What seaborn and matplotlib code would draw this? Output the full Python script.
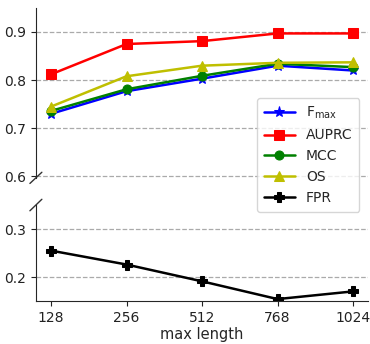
import pandas as pd
import matplotlib
matplotlib.use("Agg")
import matplotlib.pyplot as plt
import seaborn as sns

# data
max_length = ["128", "256", "512", "768", "1024"]
fmax = [0.730, 0.777, 0.803, 0.830, 0.820]
auprc = [0.812, 0.875, 0.881, 0.897, 0.897]
mcc = [0.736, 0.781, 0.809, 0.834, 0.827]
os_score = [0.745, 0.808, 0.830, 0.836, 0.837]
fpr = [0.255, 0.226, 0.191, 0.154, 0.170]

top_series = [
    (r"$\mathrm{F_{max}}$", fmax, "blue", "*"),
    ("AUPRC", auprc, "red", "s"),
    ("MCC", mcc, "green", "o"),
    ("OS", os_score, "y", "^"),
]


def main():
    sns.set_style("ticks")
    plt.rcParams["font.family"] = ["DejaVu Sans"]
    plt.rcParams["font.size"] = 10

    fig = plt.figure(figsize=(3.7, 3.44), dpi=100)
    ax_top = fig.add_axes([0.097, 0.483, 0.898, 0.494])
    ax_bot = fig.add_axes([0.097, 0.125, 0.898, 0.279], sharex=ax_top)

    for name, vals, color, marker in top_series:
        df = pd.DataFrame({"max length": max_length, "value": vals})
        sns.lineplot(data=df, x="max length", y="value", ax=ax_top, color=color,
                     marker=marker, markersize=8 if marker == "*" else 6.5,
                     markeredgecolor=color, linewidth=1.8, sort=False, label=name)
    df = pd.DataFrame({"max length": max_length, "value": fpr})
    sns.lineplot(data=df, x="max length", y="value", ax=ax_bot, color="black",
                 marker="P", markersize=7, markeredgecolor="black",
                 linewidth=1.8, sort=False, label="FPR")

    h1, l1 = ax_top.get_legend_handles_labels()
    h2, l2 = ax_bot.get_legend_handles_labels()
    ax_top.get_legend().remove()
    ax_bot.get_legend().remove()

    ax_top.set_ylim(0.597, 0.95)
    ax_bot.set_ylim(0.15, 0.35)
    ax_top.set_yticks([0.6, 0.7, 0.8, 0.9])
    ax_bot.set_yticks([0.2, 0.3])
    ax_top.set_xlim(-0.2, 4.2)

    for ax in (ax_top, ax_bot):
        ax.grid(axis="y", linestyle="--", color="#aaaaaa", linewidth=0.9)
        ax.set_ylabel("")
        ax.tick_params(labelsize=10, colors="#222222")
        sns.despine(ax=ax)

    ax_top.spines["bottom"].set_visible(False)
    ax_top.tick_params(axis="x", bottom=False, labelbottom=False)
    ax_top.set_xlabel("")
    ax_bot.set_xlabel("max length", fontsize=10.5, labelpad=2)

    # break marks on the left spine
    d = 0.03
    kw = dict(color="#333333", clip_on=False, linewidth=1)
    ax_top.plot([-d * 0.6, d * 0.6], [-d * 1.1, d * 1.1], transform=ax_top.transAxes, **kw)
    ax_bot.plot([-d * 0.6, d * 0.6], [1 - d * 2, 1 + d * 2], transform=ax_bot.transAxes, **kw)

    fig.legend(h1 + h2, l1 + l2, loc="upper right", bbox_to_anchor=(0.99, 0.735),
               fontsize=10, handlelength=2.2, borderpad=0.5, labelspacing=0.5)

    fig.savefig("out.png", dpi=100)
    plt.close(fig)


if __name__ == "__main__":
    main()
